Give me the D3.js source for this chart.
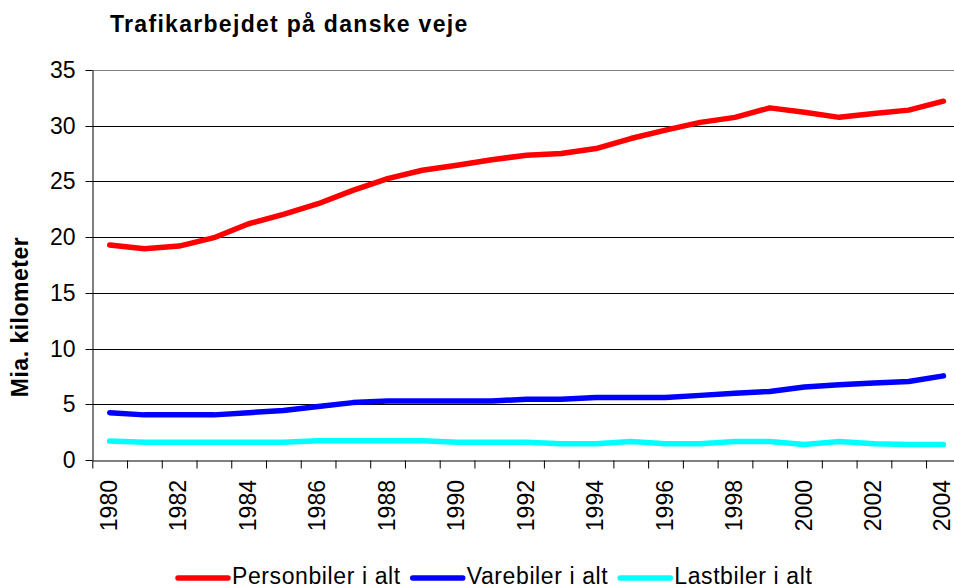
<!DOCTYPE html>
<html lang="da">
<head>
  <meta charset="UTF-8">
  <script src="https://d3js.org/d3.v7.min.js"></script>
  <title>Trafikarbejdet på danske veje</title>
  <style>
    body { margin: 0; background: #fff; }
    svg { display: block; font-family: "Liberation Sans", Arial, sans-serif; }
  </style>
</head>
<body>
<script>
  /*
    Data (Mia. kilometer)
  */
  const years = d3.range(1980, 2005)
  const personbiler = [19.3, 18.95, 19.2, 19.95, 21.2, 22.05, 23.0, 24.2, 25.25, 26.0, 26.45, 26.95,
                       27.35, 27.5, 27.95, 28.85, 29.6, 30.3, 30.75, 31.6, 31.2, 30.75, 31.1, 31.4, 32.2]
  const varebiler = [4.25, 4.05, 4.05, 4.05, 4.25, 4.45, 4.8, 5.15, 5.3, 5.3, 5.3, 5.3,
                     5.45, 5.45, 5.6, 5.6, 5.6, 5.8, 6.0, 6.15, 6.55, 6.75, 6.9, 7.05, 7.55]
  const lastbiler = [1.7, 1.6, 1.6, 1.6, 1.6, 1.6, 1.72, 1.72, 1.72, 1.72, 1.6, 1.6,
                     1.6, 1.45, 1.45, 1.65, 1.45, 1.45, 1.65, 1.65, 1.4, 1.65, 1.45, 1.4, 1.4]
  const seriesNames = ["Personbiler i alt", "Varebiler i alt", "Lastbiler i alt"]
  const seriesColors = ["#ff0000", "#0000ff", "#00ffff"]
  const yTicks = [0, 5, 10, 15, 20, 25, 30, 35]
  const xLabels = d3.range(1980, 2005, 2)

  const width = 954
  const height = 587
  const plotLeft = 92.3, plotTop = 70, plotBottom = 460
  const stepX = 34.74
  const plotRight = plotLeft + stepX * years.length   // runs past the picture edge

  let svg = d3.select("body").append("svg")
              .attr("width", width)
              .attr("height", height)

  // Scales: linear over year boundaries, points at year + 0.5
  let x = d3.scaleLinear().domain([1980, 2005]).range([plotLeft, plotRight])
  let y = d3.scaleLinear().domain([0, 35]).range([plotBottom, plotTop])

  // Gridlines
  svg.append("g").selectAll("line")
     .data(yTicks.filter(d => d > 0))
     .enter().append("line")
     .attr("x1", plotLeft).attr("x2", plotRight)
     .attr("y1", d => Math.round(y(d)) + 0.5).attr("y2", d => Math.round(y(d)) + 0.5)
     .attr("stroke", d => d == 35 ? "#808080" : "#000")
     .attr("stroke-width", 1)

  // Y axis
  let yAxis = svg.append("g")
                 .attr("transform", "translate(" + (Math.round(plotLeft) + 0.5) + ",0)")
                 .call(d3.axisLeft(y).tickValues(yTicks).tickSize(7).tickSizeOuter(0).tickPadding(10))
  yAxis.selectAll("text").style("font-size", "23px").attr("fill", "#000")
  yAxis.selectAll("line, path").attr("stroke", "#000")
  yAxis.selectAll(".tick").attr("transform", d => "translate(0," + (Math.round(y(d)) + 0.5) + ")")

  // X axis: ticks at category boundaries
  let xAxis = svg.append("g")
                 .attr("transform", "translate(0," + (plotBottom + 0.5) + ")")
                 .call(d3.axisBottom(x).tickValues(d3.range(1980, 2006)).tickFormat("").tickSize(8).tickSizeOuter(0))
  xAxis.selectAll("line, path").attr("stroke", "#000")

  // X labels, rotated
  svg.append("g").selectAll("text")
     .data(xLabels)
     .enter().append("text")
     .attr("transform", d => "translate(" + (x(d + 0.5) - 1) + ",480) rotate(-90)")
     .attr("text-anchor", "end")
     .attr("dy", "0.35em")
     .style("font-size", "23px")
     .text(d => d)

  // Lines
  let line = d3.line()
               .x((d, i) => x(years[i] + 0.5))
               .y(d => y(d))
  let allSeries = [personbiler, varebiler, lastbiler]
  svg.append("g").selectAll("path")
     .data(allSeries)
     .enter().append("path")
     .attr("d", line)
     .attr("fill", "none")
     .attr("stroke", (d, i) => seriesColors[i])
     .attr("stroke-width", 5.5)
     .attr("stroke-linejoin", "round")
     .attr("stroke-linecap", "round")

  // Title
  svg.append("text")
     .attr("x", 110).attr("y", 31.5)
     .style("font-size", "23px")
     .style("font-weight", "bold")
     .style("letter-spacing", "1.3px")
     .text("Trafikarbejdet på danske veje")

  // Y axis title
  svg.append("text")
     .attr("transform", "translate(20,317) rotate(-90)")
     .attr("text-anchor", "middle")
     .attr("dy", "0.35em")
     .style("font-size", "23px")
     .style("font-weight", "bold")
     .style("letter-spacing", "0.5px")
     .text("Mia. kilometer")

  // Legend
  let legend = svg.append("g")
  let lx = 178
  seriesNames.forEach(function(name, i){
    legend.append("line")
          .attr("x1", lx).attr("x2", lx + 50)
          .attr("y1", 578).attr("y2", 578)
          .attr("stroke", seriesColors[i])
          .attr("stroke-width", 5.5)
          .attr("stroke-linecap", "round")
    let t = legend.append("text")
                  .attr("x", lx + 54).attr("y", 583.5)
                  .style("font-size", "23px")
                  .style("letter-spacing", "0.6px")
                  .text(name)
    lx = lx + 54 + t.node().getComputedTextLength() + 12
  })
</script>
</body>
</html>
